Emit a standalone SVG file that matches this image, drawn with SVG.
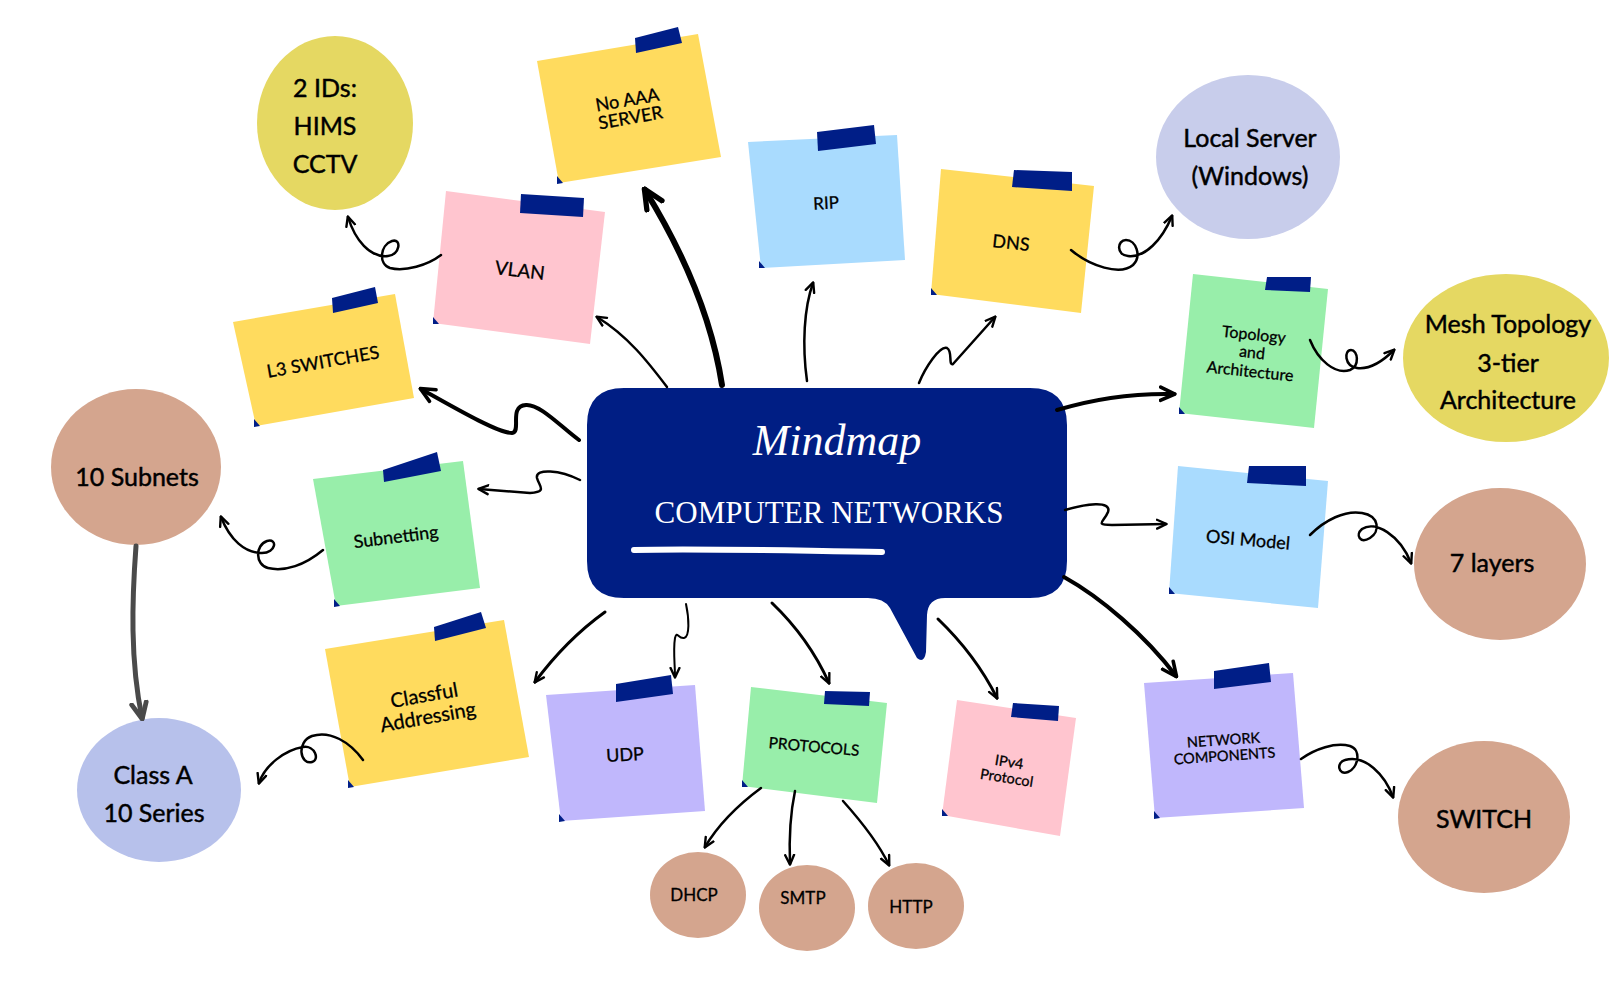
<svg xmlns="http://www.w3.org/2000/svg" width="1622" height="990" viewBox="0 0 1622 990">
<defs>
<style>
.t{font-family:Lato,"Noto Sans","DejaVu Sans",sans-serif;fill:#000;text-anchor:middle;stroke:#000;stroke-width:0.3px}
.c{font-size:25px;stroke-width:0.45px}
.n{font-size:18px}
.tape{fill:#001E87}
.fold{fill:#001E87}
.yel{fill:#FFDB5E}
.pink{fill:#FFC5CF}
.blue{fill:#A9DBFE}
.green{fill:#98EEAA}
.purp{fill:#C0B7FC}
.olive{fill:#E5D862}
.brown{fill:#D4A58E}
.ln{fill:none;stroke:#000;stroke-linecap:round;stroke-linejoin:round}
</style>
<marker id="a" viewBox="0 0 10 10" refX="8.5" refY="5" markerWidth="12" markerHeight="12" markerUnits="userSpaceOnUse" orient="auto"><path d="M1,1.3 L9,5 L1,8.7" fill="none" stroke="#000" stroke-width="2" stroke-linecap="round" stroke-linejoin="round"/></marker>
<marker id="m" viewBox="0 0 10 10" refX="8.5" refY="5" markerWidth="18" markerHeight="18" markerUnits="userSpaceOnUse" orient="auto"><path d="M1,1.3 L9,5 L1,8.7" fill="none" stroke="#000" stroke-width="2" stroke-linecap="round" stroke-linejoin="round"/></marker>
<marker id="b" viewBox="0 0 10 10" refX="8.5" refY="5" markerWidth="24" markerHeight="24" markerUnits="userSpaceOnUse" orient="auto"><path d="M1,1.3 L9,5 L1,8.7" fill="none" stroke="#000" stroke-width="2.2" stroke-linecap="round" stroke-linejoin="round"/></marker>
<marker id="g" viewBox="0 0 10 10" refX="8.5" refY="5" markerWidth="20" markerHeight="20" markerUnits="userSpaceOnUse" orient="auto"><path d="M1,1.3 L9,5 L1,8.7" fill="none" stroke="#4A4A4A" stroke-width="2.4" stroke-linecap="round" stroke-linejoin="round"/></marker>
</defs>
<rect width="1622" height="990" fill="#fff"/>

<g id="center">
<path fill="#001E84" d="M624,388 H1030 Q1067,388 1067,425 V561 Q1067,598 1030,598 H945 Q928,598 927,615 L926,652 Q924,664 917,658 L890,608 Q884,598 868,598 H624 Q587,598 587,561 V425 Q587,388 624,388 Z"/>
<text x="837" y="455" font-family="'Liberation Serif',serif" font-style="italic" font-size="44" fill="#fff" text-anchor="middle">Mindmap</text>
<text x="829" y="523" font-family="'Liberation Serif',serif" font-size="31" fill="#fff" text-anchor="middle">COMPUTER NETWORKS</text>
<path d="M634,550 C 700,548 800,551 882,552" fill="none" stroke="#fff" stroke-width="6" stroke-linecap="round"/>
</g>

<g id="n-noaaa">
<polygon class="yel" points="537,61 698,34 721,157 559,183"/>
<polygon class="tape" points="635,38 678,27 682,43 636,53"/>
<polygon class="fold" points="557,176 563,183 557,184"/>
<g transform="rotate(-10 629 109)"><text class="t n" x="629" y="106">No AAA</text><text class="t n" x="629" y="124">SERVER</text></g>
</g>

<g id="n-vlan">
<polygon class="pink" points="446,191 605,212 590,344 433,323"/>
<polygon class="tape" points="521,194 584,198 583,217 520,213"/>
<polygon class="fold" points="433,317 439,324 433,324"/>
<text class="t" font-size="19" x="520" y="277" transform="rotate(7 520 270)">VLAN</text>
</g>

<g id="n-l3">
<polygon class="yel" points="233,322 395,294 414,398 256,426"/>
<polygon class="tape" points="332,298 375,287 378,303 333,313"/>
<polygon class="fold" points="254,419 260,426 254,427"/>
<text class="t n" x="323" y="368" transform="rotate(-10 323 362)">L3 SWITCHES</text>
</g>

<g id="n-rip">
<polygon class="blue" points="748,142 897,135 905,260 761,268"/>
<polygon class="tape" points="817,132 874,125 876,144 818,151"/>
<polygon class="fold" points="759,261 765,268 759,268"/>
<text class="t" font-size="17" x="826" y="209" transform="rotate(-3 826 203)">RIP</text>
</g>

<g id="n-dns">
<polygon class="yel" points="941,169 1094,186 1081,313 931,294"/>
<polygon class="tape" points="1014,170 1072,172 1072,191 1012,187"/>
<polygon class="fold" points="931,288 937,295 931,295"/>
<text class="t n" x="1011" y="249" transform="rotate(6 1011 243)">DNS</text>
</g>

<g id="n-topology">
<polygon class="green" points="1193,274 1328,289 1314,428 1179,413"/>
<polygon class="tape" points="1267,277 1311,277 1310,292 1265,290"/>
<polygon class="fold" points="1179,407 1185,414 1179,414"/>
<g transform="rotate(6 1252 353)" font-size="16"><text class="t" x="1252" y="340">Topology</text><text class="t" x="1252" y="358">and</text><text class="t" x="1252" y="377">Architecture</text></g>
</g>

<g id="n-subnetting">
<polygon class="green" points="313,479 463,461 480,588 336,606"/>
<polygon class="tape" points="383,470 437,452 441,471 384,482"/>
<polygon class="fold" points="334,599 340,606 334,607"/>
<text class="t n" x="396" y="543" transform="rotate(-7 396 537)">Subnetting</text>
</g>

<g id="n-classful">
<polygon class="yel" points="325,649 504,620 529,757 350,787"/>
<polygon class="tape" points="434,627 481,612 486,628 435,641"/>
<polygon class="fold" points="348,780 354,787 348,788"/>
<g transform="rotate(-10 426 706)" font-size="20"><text class="t" x="426" y="702">Classful</text><text class="t" x="426" y="724">Addressing</text></g>
</g>

<g id="n-osi">
<polygon class="blue" points="1178,466 1328,481 1318,608 1169,593"/>
<polygon class="tape" points="1249,466 1306,466 1306,486 1247,483"/>
<polygon class="fold" points="1169,587 1175,594 1169,594"/>
<text class="t n" x="1248" y="546" transform="rotate(5 1248 540)">OSI Model</text>
</g>

<g id="n-netcomp">
<polygon class="purp" points="1144,683 1293,673 1304,808 1155,818"/>
<polygon class="tape" points="1214,671 1269,663 1271,682 1214,689"/>
<polygon class="fold" points="1154,811 1160,818 1154,819"/>
<g transform="rotate(-4 1224 748)" font-size="14.5"><text class="t" x="1224" y="745">NETWORK</text><text class="t" x="1224" y="761">COMPONENTS</text></g>
</g>

<g id="n-udp">
<polygon class="purp" points="546,695 695,685 705,811 561,821"/>
<polygon class="tape" points="616,684 671,675 673,694 616,702"/>
<polygon class="fold" points="559,814 565,821 559,822"/>
<text class="t n" x="625" y="761" transform="rotate(-3 625 755)">UDP</text>
</g>

<g id="n-protocols">
<polygon class="green" points="751,687 887,703 877,803 742,786"/>
<polygon class="tape" points="825,691 870,692 869,706 824,704"/>
<polygon class="fold" points="742,780 748,787 742,787"/>
<text class="t" font-size="15.5" x="814" y="752" transform="rotate(5 814 747)">PROTOCOLS</text>
</g>

<g id="n-ipv4">
<polygon class="pink" points="957,700 1076,718 1060,836 942,815"/>
<polygon class="tape" points="1013,703 1059,706 1058,721 1011,717"/>
<polygon class="fold" points="942,809 948,816 942,816"/>
<g transform="rotate(9 1008 770)" font-size="14.5"><text class="t" x="1008" y="767">IPv4</text><text class="t" x="1008" y="783">Protocol</text></g>
</g>

<g id="c-ids">
<ellipse class="olive" cx="335" cy="123" rx="78" ry="87"/>
<text class="t c" x="325" y="97">2 IDs:</text><text class="t c" x="325" y="135">HIMS</text><text class="t c" x="325" y="173">CCTV</text>
</g>

<g id="c-local">
<ellipse fill="#C8CDEB" cx="1248" cy="157" rx="92" ry="82"/>
<text class="t c" x="1250" y="147">Local Server</text><text class="t c" x="1250" y="185">(Windows)</text>
</g>

<g id="c-mesh">
<ellipse class="olive" cx="1506" cy="358" rx="103" ry="84"/>
<text class="t c" x="1508" y="333">Mesh Topology</text><text class="t c" x="1508" y="372">3-tier</text><text class="t c" x="1508" y="409">Architecture</text>
</g>

<g id="c-subnets">
<ellipse class="brown" cx="136" cy="467" rx="85" ry="78"/>
<text class="t c" x="137" y="486">10 Subnets</text>
</g>

<g id="c-classa">
<ellipse fill="#B7C1EB" cx="159" cy="790" rx="82" ry="72"/>
<text class="t c" x="153" y="784">Class A</text><text class="t c" x="154" y="822">10 Series</text>
</g>

<g id="c-layers">
<ellipse class="brown" cx="1500" cy="564" rx="86" ry="76"/>
<text class="t c" x="1492" y="572">7 layers</text>
</g>

<g id="c-switch">
<ellipse class="brown" cx="1484" cy="817" rx="86" ry="76"/>
<text class="t c" x="1484" y="828">SWITCH</text>
</g>

<g id="c-dhcp">
<ellipse class="brown" cx="698" cy="895" rx="48" ry="43"/>
<text class="t" font-size="17" x="694" y="901">DHCP</text>
</g>

<g id="c-smtp">
<ellipse class="brown" cx="807" cy="908" rx="48" ry="43"/>
<text class="t" font-size="17" x="803" y="904">SMTP</text>
</g>

<g id="c-http">
<ellipse class="brown" cx="916" cy="906" rx="48" ry="43"/>
<text class="t" font-size="17" x="911" y="913">HTTP</text>
</g>

<g id="connectors">
<path class="ln" stroke-width="4" marker-end="url(#m)" d="M579,440 C 560,426 540,404 526,405 C 508,406 522,432 512,433 C 498,433 455,408 421,389"/>
<path class="ln" stroke-width="6" marker-end="url(#b)" d="M722,385 C 712,320 685,255 645,190"/>
<path class="ln" stroke-width="2.5" marker-end="url(#a)" d="M667,387 C 648,362 628,336 597,317"/>
<path class="ln" stroke-width="2.5" marker-end="url(#a)" d="M807,381 C 802,345 804,308 813,283"/>
<path class="ln" stroke-width="2.5" marker-end="url(#a)" d="M919,383 C 925,368 940,345 947,348 C 953,351 948,366 953,364 L 995,317"/>
<path class="ln" stroke-width="2.5" marker-end="url(#a)" d="M1071,250 C 1090,266 1120,276 1133,265 C 1142,256 1136,240 1126,240 C 1117,240 1116,255 1128,256 C 1145,258 1162,240 1172,216"/>
<path class="ln" stroke-width="4" marker-end="url(#m)" d="M1057,410 C 1090,400 1130,393 1174,394"/>
<path class="ln" stroke-width="2.5" marker-end="url(#a)" d="M1310,340 C 1318,360 1335,375 1350,370 C 1360,366 1358,350 1351,350 C 1344,350 1344,366 1357,368 C 1372,370 1386,358 1394,350"/>
<path class="ln" stroke-width="2.5" marker-end="url(#a)" d="M1065,510 C 1085,504 1112,500 1108,512 C 1104,522 1094,525 1112,525 L 1166,524"/>
<path class="ln" stroke-width="2.5" marker-end="url(#a)" d="M1310,535 C 1325,520 1345,510 1362,513 C 1380,516 1380,532 1370,538 C 1360,544 1355,535 1362,529 C 1375,520 1400,535 1411,563"/>
<path class="ln" stroke-width="4" marker-end="url(#m)" d="M1064,577 C 1100,597 1145,635 1176,676"/>
<path class="ln" stroke-width="2.5" marker-end="url(#a)" d="M1301,759 C 1315,749 1335,742 1350,746 C 1362,750 1358,768 1348,772 C 1338,776 1336,762 1345,760 C 1365,754 1385,775 1393,797"/>
<path class="ln" stroke-width="3" marker-end="url(#a)" d="M938,619 C 962,642 983,670 997,698"/>
<path class="ln" stroke-width="3" marker-end="url(#a)" d="M772,603 C 795,625 815,652 829,683"/>
<path class="ln" stroke-width="2" marker-end="url(#a)" d="M686,604 C 689,618 690,637 684,638 C 678,639 677,630 675,638 C 673,650 675,665 675,677"/>
<path class="ln" stroke-width="3" marker-end="url(#a)" d="M605,612 C 580,630 555,655 535,682"/>
<path class="ln" stroke-width="2.5" marker-end="url(#a)" d="M761,788 C 738,805 718,825 705,847"/>
<path class="ln" stroke-width="2.5" marker-end="url(#a)" d="M795,791 C 790,815 789,840 790,864"/>
<path class="ln" stroke-width="2.5" marker-end="url(#a)" d="M843,801 C 860,820 878,842 889,865"/>
<path class="ln" stroke-width="2.5" marker-end="url(#a)" d="M580,480 C 560,470 535,468 537,478 C 539,486 548,492 530,493 L 479,489"/>
<path class="ln" stroke-width="2.5" marker-end="url(#a)" d="M323,550 C 305,565 285,572 268,568 C 255,565 255,545 267,541 C 278,538 276,553 262,553 C 245,553 230,540 221,517"/>
<path class="ln" stroke-width="2.5" marker-end="url(#a)" d="M441,255 C 428,265 405,272 390,268 C 378,264 380,245 392,241 C 402,238 400,255 388,256 C 370,258 355,240 348,217"/>
<path class="ln" stroke-width="2.5" marker-end="url(#a)" d="M363,760 C 350,742 330,730 312,736 C 296,742 300,765 312,762 C 320,760 315,745 303,747 C 285,750 265,765 259,783"/>
<path fill="none" stroke="#4A4A4A" stroke-width="5" stroke-linecap="round" marker-end="url(#g)" d="M136,546 C 132,600 130,660 142,718"/>
</g>
</svg>
